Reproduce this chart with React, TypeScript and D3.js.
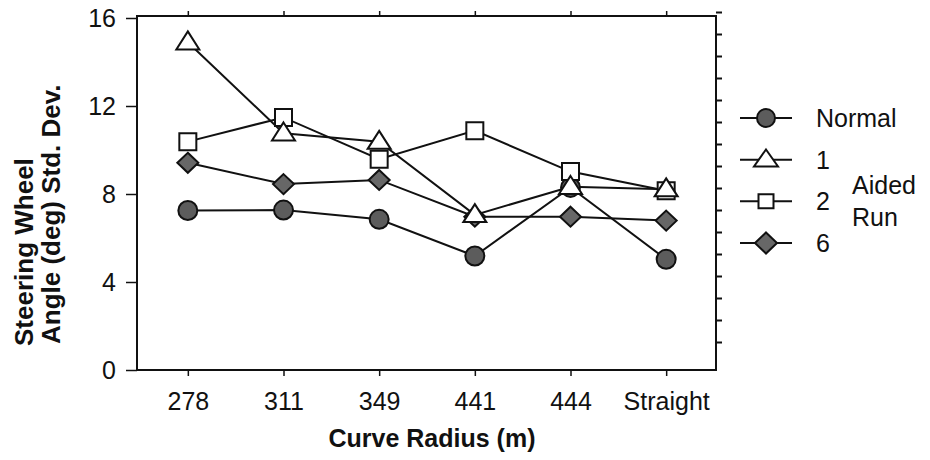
import React, { useEffect, useRef } from 'react';
import * as d3 from 'd3';

const radii = ['278', '311', '349', '441', '444', 'Straight'];
const normal = [7.25, 7.27, 6.85, 5.18, 8.3, 5.03];
const run1 = [14.9, 10.76, 10.38, 7.05, 8.33, 8.22];
const run2 = [10.38, 11.48, 9.58, 10.88, 9.02, 8.15];
const run6 = [9.42, 8.45, 8.64, 6.97, 6.97, 6.79];
const yTicks = [0, 4, 8, 12, 16];
const legendLabels = ['Normal', '1', '2', '6'];

const FONT = '"Liberation Sans", Arial, Helvetica, sans-serif';

// marker path centred on 0,0, w = width, h = height
const markerPath = (kind: string, w: number, h: number) => {
  const a = w / 2;
  const b = h / 2;
  if (kind === 'circle') {
    return `M${-a},0A${a},${b} 0 1,0 ${a},0A${a},${b} 0 1,0 ${-a},0Z`;
  }
  if (kind === 'triangle') {
    return `M0,${-h * 0.6}L${a},${h * 0.4}L${-a},${h * 0.4}Z`;
  }
  if (kind === 'square') {
    return `M${-a},${-b}H${a}V${b}H${-a}Z`;
  }
  return `M0,${-b}L${a},0L0,${b}L${-a},0Z`;
};

const App = () => {
  const svgRef = useRef<SVGSVGElement>(null);

  useEffect(() => {
    const w = 930;
    const h = 460;
    const m = { left: 137, right: 716, top: 16, bottom: 370 };

    const svg = d3.select(svgRef.current).attr('width', w).attr('height', h);
    svg.selectAll('*').remove();

    const x = d3.scalePoint().domain(radii).range([140, 714]).padding(0.5);
    const y = d3.scaleLinear().domain([0, 16]).range([m.bottom, 18]);

    const g = svg.append('g').attr('font-family', FONT);

    // frame
    g.append('rect')
      .attr('x', m.left).attr('y', m.top)
      .attr('width', m.right - m.left).attr('height', m.bottom - m.top)
      .attr('fill', 'none').attr('stroke', '#111').attr('stroke-width', 2);

    // left axis
    const left = g.append('g').attr('transform', `translate(${m.left},0)`);
    left.call(d3.axisLeft(y).tickValues(d3.range(0, 17)).tickSize(5).tickFormat(() => ''));
    left.call(d3.axisLeft(y).tickValues(yTicks).tickSize(11).tickPadding(10).tickFormat(d3.format('d')));
    left.selectAll('.domain').remove();
    left.selectAll('line').attr('stroke', '#111').attr('stroke-width', 1.5);
    left.selectAll('text').attr('font-size', 25).attr('font-family', FONT).attr('fill', '#111');

    // right axis (ticks sit a little higher on the scan)
    const right = g.append('g').attr('transform', `translate(${m.right},-6)`);
    right.call(d3.axisRight(y).tickValues(d3.range(1, 17)).tickSize(6).tickFormat(() => ''));
    right.selectAll('.domain').remove();
    right.selectAll('line').attr('stroke', '#111').attr('stroke-width', 2);

    // bottom axis
    const bottom = g.append('g').attr('transform', `translate(0,${m.bottom})`);
    bottom.call(d3.axisBottom(x).tickSize(6));
    bottom.selectAll('.domain').remove();
    bottom.selectAll('line').attr('stroke', '#111').attr('stroke-width', 1.5);
    bottom.selectAll('text')
      .attr('y', 40).attr('dy', 0)
      .attr('font-size', 25).attr('font-family', FONT).attr('fill', '#111');

    // top axis
    const top = g.append('g').attr('transform', `translate(0,${m.top})`);
    top.call(d3.axisTop(x).tickSize(5).tickFormat(() => ''));
    top.selectAll('.domain').remove();
    top.selectAll('line').attr('stroke', '#111').attr('stroke-width', 1.5);

    // axis titles
    g.append('text')
      .attr('x', 432).attr('y', 447)
      .attr('text-anchor', 'middle').attr('font-weight', 'bold').attr('font-size', 25)
      .attr('fill', '#111').text('Curve Radius (m)');

    g.append('text')
      .attr('transform', 'translate(33,346) rotate(-90)')
      .attr('font-weight', 'bold').attr('font-size', 26)
      .attr('fill', '#111').text('Steering Wheel');
    g.append('text')
      .attr('transform', 'translate(60,344) rotate(-90)')
      .attr('font-weight', 'bold').attr('font-size', 26)
      .attr('fill', '#111').text('Angle (deg) Std. Dev.');

    const series = [
      { values: normal, kind: 'circle', w: 19, h: 19, fill: '#5c5c5c' },
      { values: run6, kind: 'diamond', w: 21, h: 20, fill: '#676767' },
      { values: run2, kind: 'square', w: 17, h: 17, fill: '#fff' },
      { values: run1, kind: 'triangle', w: 23, h: 18, fill: '#fff' },
    ];

    const line = d3.line<number>()
      .x((_, i) => x(radii[i]) as number)
      .y((d) => y(d));

    series.forEach((s) => {
      g.append('path')
        .attr('d', line(s.values))
        .attr('fill', 'none').attr('stroke', '#111').attr('stroke-width', 2);
    });

    series.forEach((s) => {
      g.append('g').selectAll('path')
        .data(s.values)
        .join('path')
        .attr('transform', (d, i) => `translate(${x(radii[i])},${y(d)})`)
        .attr('d', markerPath(s.kind, s.w, s.h))
        .attr('fill', s.fill).attr('stroke', '#111').attr('stroke-width', 2);
    });

    // legend
    const legendKinds = [
      { kind: 'circle', w: 18, h: 18, fill: '#5c5c5c' },
      { kind: 'triangle', w: 24, h: 17, fill: '#fff' },
      { kind: 'square', w: 15, h: 14, fill: '#fff' },
      { kind: 'diamond', w: 22, h: 21, fill: '#676767' },
    ];
    const ly = d3.scalePoint().domain(legendLabels).range([118, 243]);
    const leg = g.append('g');
    legendLabels.forEach((lab, i) => {
      const yy = ly(lab) as number;
      leg.append('line')
        .attr('x1', 740).attr('x2', 792).attr('y1', yy).attr('y2', yy)
        .attr('stroke', '#111').attr('stroke-width', 2);
      leg.append('path')
        .attr('transform', `translate(766,${yy})`)
        .attr('d', markerPath(legendKinds[i].kind, legendKinds[i].w, legendKinds[i].h))
        .attr('fill', legendKinds[i].fill).attr('stroke', '#111').attr('stroke-width', 2);
      leg.append('text')
        .attr('x', 816).attr('y', yy + 9)
        .attr('font-size', 25).attr('fill', '#111').text(lab);
    });
    leg.append('text').attr('x', 852).attr('y', 194).attr('font-size', 25).attr('fill', '#111').text('Aided');
    leg.append('text').attr('x', 852).attr('y', 226).attr('font-size', 25).attr('fill', '#111').text('Run');
  }, []);

  return (
    <svg ref={svgRef} style={{ position: 'absolute', left: 0, top: 0, background: '#fff' }}></svg>
  );
};

export default App;
